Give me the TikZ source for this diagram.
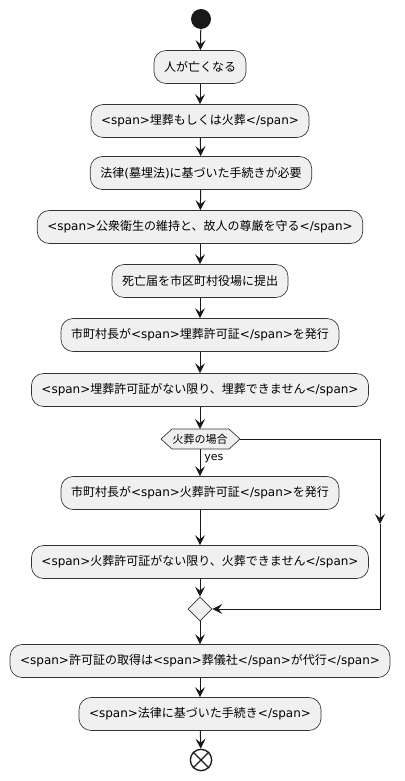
\documentclass[tikz,border=0pt]{standalone}
\usepackage{fontspec}
\setmainfont{Noto Sans CJK JP}
\newfontfamily\latinfont{DejaVu Sans}
\newcommand\lt[1]{{\latinfont #1}}
\usetikzlibrary{arrows.meta,shapes.geometric}
\begin{document}
\begin{tikzpicture}[x=0.75pt, y=-0.75pt,
    act/.style={draw=black!80, fill=black!6, line width=0.5pt, rounded corners=9pt,
        minimum height=24.75pt, inner xsep=7.5pt, font=\fontsize{9}{11}\selectfont},
    flow/.style={-{Stealth[length=7.5pt,width=7.5pt,inset=3pt]}, line width=0.75pt, black!90}]
    \useasboundingbox (0,0) rectangle (404,781);
    % start and activities
    \node[circle, fill=black!90, minimum size=15pt, inner sep=0] (start) at (201,19) {};
    \node[act] (dies) at (200,67) {人が亡くなる};
    \node[act] (burial) at (200,121) {\lt{<span>}埋葬もしくは火葬\lt{</span>}};
    \node[act] (law) at (201,173) {法律\lt{(}墓埋法\lt{)}に基づいた手続きが必要};
    \node[act] (hygiene) at (200,227) {\lt{<span>}公衆衛生の維持と、故人の尊厳を守る\lt{</span>}};
    \node[act] (notice) at (200,281) {死亡届を市区町村役場に提出};
    \node[act] (bpermit) at (200,335) {市町村長が\lt{<span>}埋葬許可証\lt{</span>}を発行};
    \node[act] (bnone) at (200,390) {\lt{<span>}埋葬許可証がない限り、埋葬できません\lt{</span>}};
    % condition
    \draw[draw=black!80, fill=black!6, line width=0.5pt] (161,439) -- (172,429) -- (229,429)
        -- (240,439) -- (229,449) -- (172,449) -- cycle;
    \node[font=\fontsize{8.25}{10}\selectfont, inner sep=0] (cond) at (200,439) {火葬の場合};
    \coordinate (condR) at (240,439);
    \coordinate (condB) at (200,449);
    \node[font=\fontsize{8.25}{10}\selectfont\latinfont, anchor=west, inner sep=0] (yes) at (204,459) {yes};
    \node[act] (cpermit) at (200,493) {市町村長が\lt{<span>}火葬許可証\lt{</span>}を発行};
    \node[act] (cnone) at (200,562) {\lt{<span>}火葬許可証がない限り、火葬できません\lt{</span>}};
    \node[diamond, draw=black!80, fill=black!6, line width=0.5pt, minimum size=18pt, inner sep=0] (merge) at (200,609) {};
    \node[act] (agent) at (200,661) {\lt{<span>}許可証の取得は\lt{<span>}葬儀社\lt{</span>}が代行\lt{</span>}};
    \node[act] (proc) at (200,714) {\lt{<span>}法律に基づいた手続き\lt{</span>}};
    \node[circle, draw=black!90, line width=1pt, minimum size=16pt, inner sep=0] (stop) at (201,760) {};
    \draw[line width=1pt, black!90] (stop.north west) -- (stop.south east)
        (stop.north east) -- (stop.south west);
    % connectors
    \draw[flow] (start) -- (dies);
    \draw[flow] (dies) -- (burial);
    \draw[flow] (burial) -- (law);
    \draw[flow] (law) -- (hygiene);
    \draw[flow] (hygiene) -- (notice);
    \draw[flow] (notice) -- (bpermit);
    \draw[flow] (bpermit) -- (bnone);
    \draw[flow] (bnone) -- (200,429);
    \draw[flow] (condB) -- (cpermit);
    \draw[flow] (cpermit) -- (cnone);
    \draw[flow] (cnone) -- (merge);
    \coordinate (bend) at (380,524);
    \draw[flow] (condR) -- (380,439) -- (bend);
    \draw[flow] (bend) -- (380,609) -- (merge.east);
    \draw[flow] (merge) -- (agent);
    \draw[flow] (agent) -- (proc);
    \draw[flow] (proc) -- (stop);
\end{tikzpicture}
\end{document}
